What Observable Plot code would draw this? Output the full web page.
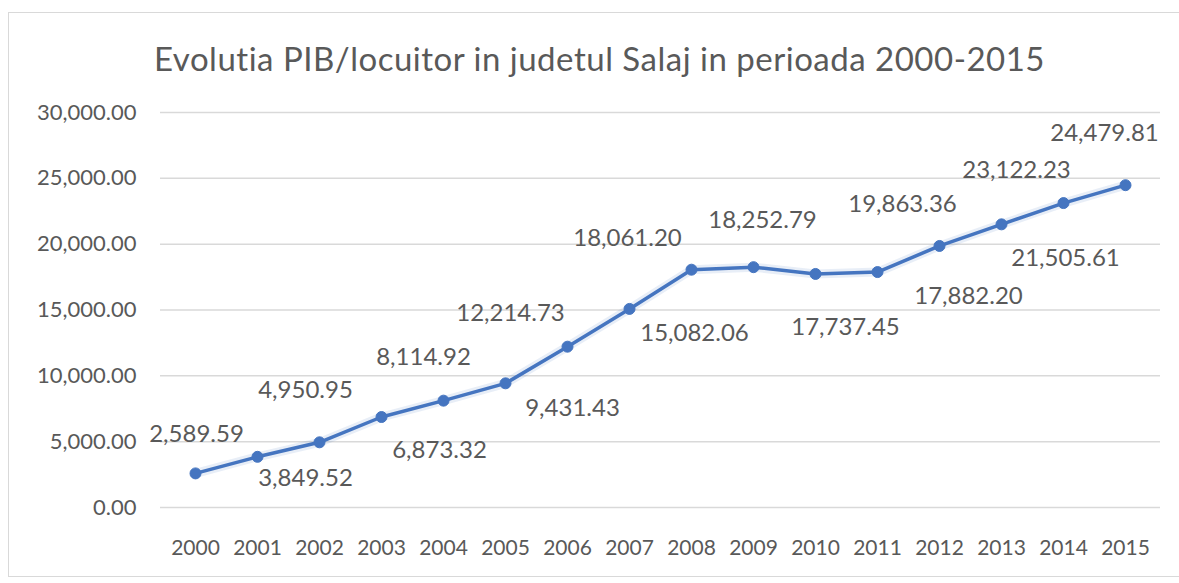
<!DOCTYPE html>
<html>
<head>
<meta charset="utf-8">
<script src="https://cdn.jsdelivr.net/npm/d3@7"></script>
<script src="https://cdn.jsdelivr.net/npm/@observablehq/plot@0.6"></script>
<style>
  html, body { margin: 0; padding: 0; background: #ffffff; }
  body { width: 1179px; height: 583px; overflow: hidden; position: relative; font-family: Lato, "Open Sans", sans-serif; }
  #frame { position: absolute; left: 8px; top: 12px; width: 1200px; height: 565px; border: 1.5px solid #d9d9d9; box-sizing: border-box; }
  #title { position: relative; height: 90px; width: 1179px; text-align: center; font-size: 33px; letter-spacing: 0.5px; color: #595959; line-height: 1; }
  #title span { position: absolute; left: 0; right: 0; top: 42px; padding-left: 20px; }
  #chart { position: relative; }
</style>
</head>
<body>
<div id="frame"></div>
<div id="title"><span>Evolutia PIB/locuitor in judetul Salaj in perioada 2000-2015</span></div>
<div id="chart"></div>
<script>
// Data
const years = ["2000","2001","2002","2003","2004","2005","2006","2007","2008","2009","2010","2011","2012","2013","2014","2015"];
const pibPerCapita = [2589.59, 3849.52, 4950.95, 6873.32, 8114.92, 9431.43, 12214.73, 15082.06, 18061.20, 18252.79, 17737.45, 17882.20, 19863.36, 21505.61, 23122.23, 24479.81];
const yTicks = [0, 5000, 10000, 15000, 20000, 25000, 30000];

// Data-label placement offsets (pixels), as laid out in the original chart
const labelDx = [1, 48, -14, 58, -20, 67, -57, 65, -64, 9, 30, 91, -37, 64, -47, -21];
const labelDy = [-39, 21, -52, 33, -43, 25, -33, 24, -31, -47, 53, 24, -42, 34, -33, -52];

const data = years.map((y, i) => ({year: y, value: pibPerCapita[i], i}));
const fmt = d3.format(",.2f");
const blue = "#4575c0";
const textColor = "#595959";

const labelMarks = data.map((d, i) => Plot.text([d], {
  x: "year", y: "value", text: d => fmt(d.value),
  dx: labelDx[i], dy: labelDy[i],
  fill: textColor, fontSize: 24, fontFamily: "Lato"
}));

const chart = Plot.plot({
  width: 1179,
  height: 493,
  marginLeft: 160,
  marginRight: 19,
  marginTop: 22,
  marginBottom: 76,
  style: {background: "transparent", fontFamily: "Lato", color: textColor, overflow: "visible"},
  x: {type: "point", domain: years, padding: 0.5},
  y: {domain: [0, 30000]},
  marks: [
    Plot.ruleY(yTicks, {stroke: "#d9d9d9", strokeWidth: 1.5}),
    Plot.axisY({ticks: yTicks, tickSize: 0, tickPadding: 24, tickFormat: fmt, fontSize: 22, fill: textColor, label: null}),
    Plot.axisX({tickSize: 0, tickPadding: 33, fontSize: 21, fill: textColor, label: null}),
    Plot.line(data, {x: "year", y: "value", stroke: blue, strokeWidth: 9, strokeOpacity: 0.12}),
    Plot.line(data, {x: "year", y: "value", stroke: blue, strokeWidth: 3.5}),
    Plot.dot(data, {x: "year", y: "value", r: 5.5, fill: blue, stroke: blue, strokeWidth: 1}),
    ...labelMarks
  ]
});
document.getElementById("chart").appendChild(chart);
</script>
</body>
</html>
